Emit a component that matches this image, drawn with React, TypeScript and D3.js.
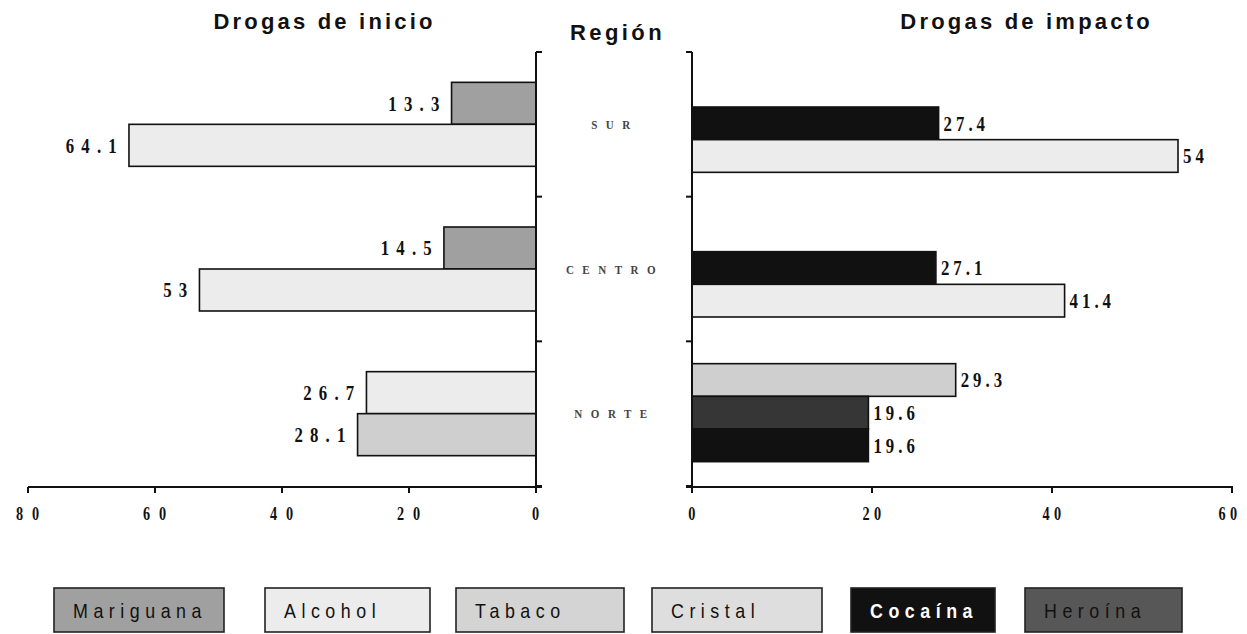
import React from 'react';
import * as d3 from 'd3';

const regions = ['SUR', 'CENTRO', 'NORTE'];
const drugs = ['Mariguana', 'Alcohol', 'Tabaco', 'Cristal', 'Cocaína', 'Heroína'];

// Drogas de inicio: two bar slots per region
const inicioDrugs = [
  ['Mariguana', 'Alcohol'],
  ['Mariguana', 'Alcohol'],
  ['Alcohol', 'Tabaco'],
];
const inicioValues = [
  [13.3, 64.1],
  [14.5, 53],
  [26.7, 28.1],
];
const inicioTicks = [80, 60, 40, 20, 0];

// Drogas de impacto: three bar slots per region (first one empty in SUR and CENTRO)
const impactoDrugs = [
  [null, 'Cocaína', 'Alcohol'],
  [null, 'Cocaína', 'Alcohol'],
  ['Tabaco', 'Heroína', 'Cocaína'],
];
const impactoValues = [
  [null, 27.4, 54],
  [null, 27.1, 41.4],
  [29.3, 19.6, 19.6],
];
const impactoTicks = [0, 20, 40, 60];

const legendFill: Record<string, string> = {
  Mariguana: '#a0a0a0',
  Alcohol: '#ececec',
  Tabaco: '#d4d4d4',
  Cristal: '#dedede',
  'Cocaína': '#111111',
  'Heroína': '#575757',
};
const barFill: Record<string, string> = { ...legendFill, 'Heroína': '#363636', Tabaco: '#cfcfcf' };

// legend box layout [x, width]
const legendBoxes = [
  [54, 170],
  [265, 165],
  [456, 168],
  [652, 170],
  [851, 144],
  [1025, 157],
];

const W = 1247;
const H = 634;
const top = 52;
const bottom = 486;
const axisY = 487;

const serif = "'Liberation Serif', 'Times New Roman', serif";
const sans = "'Liberation Sans', Arial, sans-serif";

// text squeezed horizontally, like the narrow glyphs of the original
type CTProps = {
  x: number;
  y: number;
  sx: number;
  anchor?: 'start' | 'middle' | 'end';
  family: string;
  size: number;
  spacing: number;
  weight?: string;
  fill?: string;
  dy?: string;
  children: React.ReactNode;
};
const CText: React.FC<CTProps> = ({ x, y, sx, anchor = 'start', family, size, spacing, weight = 'bold', fill = '#111', dy, children }) => (
  <text
    transform={`translate(${x},${y}) scale(${sx},1)`}
    dy={dy}
    textAnchor={anchor}
    fontFamily={family}
    fontWeight={weight}
    fontSize={size}
    letterSpacing={spacing}
    fill={fill}
  >
    {children}
  </text>
);

const App: React.FC = () => {
  const y = d3.scaleBand<string>().domain(regions).range([top, bottom]);
  const xL = d3.scaleLinear().domain([0, 80]).range([536, 28]);
  const xR = d3.scaleLinear().domain([0, 60]).range([692, 1232]);
  const slotL = d3.scaleBand<number>().domain([0, 1]).range([0, 84]);
  const slotR = d3.scaleBand<number>().domain([0, 1, 2]).range([0, 98]);
  const offL = (y.bandwidth() - 84) / 2;
  const offR = (y.bandwidth() - 98) / 2 - 1;

  const boundaries = [...regions.map((r) => y(r) as number), bottom];

  return (
    <svg width={W} height={H} style={{ position: 'absolute', left: 0, top: 0, background: '#fff' }}>
      {/* titles */}
      <text x={324.6} y={29} textAnchor="middle" fontFamily={sans} fontWeight="bold" fontSize={22} letterSpacing={3.2} fill="#111">
        Drogas de inicio
      </text>
      <text x={617.5} y={40} textAnchor="middle" fontFamily={sans} fontWeight="bold" fontSize={22} letterSpacing={3.4} fill="#111">
        Región
      </text>
      <text x={1026.6} y={29} textAnchor="middle" fontFamily={sans} fontWeight="bold" fontSize={22} letterSpacing={3.2} fill="#111">
        Drogas de impacto
      </text>

      {/* left panel bars */}
      {regions.map((r, i) =>
        inicioValues[i].map((v, j) => {
          const by = (y(r) as number) + offL + (slotL(j) as number);
          return (
            <g key={`l-${r}-${j}`}>
              <rect
                x={xL(v)}
                y={by}
                width={xL(0) - xL(v)}
                height={slotL.bandwidth()}
                fill={barFill[inicioDrugs[i][j]]}
                stroke="#111"
                strokeWidth={1.6}
              />
              <CText x={xL(v) - 5} y={by + slotL.bandwidth() / 2} dy="0.35em" anchor="end" sx={0.8} family={serif} size={21} spacing={9}>
                {String(v)}
              </CText>
            </g>
          );
        })
      )}

      {/* right panel bars */}
      {regions.map((r, i) =>
        impactoValues[i].map((v, j) => {
          if (v === null) return null;
          const by = (y(r) as number) + offR + (slotR(j) as number);
          return (
            <g key={`r-${r}-${j}`}>
              <rect
                x={xR(0)}
                y={by}
                width={xR(v) - xR(0)}
                height={slotR.bandwidth()}
                fill={barFill[impactoDrugs[i][j] as string]}
                stroke="#111"
                strokeWidth={1.6}
              />
              <CText x={xR(v) + 5} y={by + slotR.bandwidth() / 2} dy="0.35em" sx={0.8} family={serif} size={21} spacing={5}>
                {String(v)}
              </CText>
            </g>
          );
        })
      )}

      {/* left axes */}
      <line x1={xL(0)} x2={xL(0)} y1={top} y2={axisY} stroke="#111" strokeWidth={2} />
      {boundaries.map((b) => (
        <line key={`lt-${b}`} x1={xL(0)} x2={xL(0) + 6} y1={b} y2={b} stroke="#111" strokeWidth={2} />
      ))}
      <line x1={xL(80)} x2={xL(0) + 6} y1={axisY} y2={axisY} stroke="#111" strokeWidth={2} />
      {inicioTicks.map((t) => (
        <g key={`lx-${t}`}>
          <line x1={xL(t)} x2={xL(t)} y1={axisY} y2={axisY + 6} stroke="#111" strokeWidth={2} />
          <CText x={xL(t) + 4} y={520} anchor="middle" sx={0.75} family={serif} size={19} spacing={12}>
            {t}
          </CText>
        </g>
      ))}

      {/* right axes */}
      <line x1={xR(0)} x2={xR(0)} y1={top} y2={axisY} stroke="#111" strokeWidth={2} />
      {boundaries.map((b) => (
        <line key={`rt-${b}`} x1={xR(0) - 6} x2={xR(0)} y1={b} y2={b} stroke="#111" strokeWidth={2} />
      ))}
      <line x1={xR(0) - 6} x2={xR(60) + 1} y1={axisY} y2={axisY} stroke="#111" strokeWidth={2} />
      {impactoTicks.map((t) => (
        <g key={`rx-${t}`}>
          <CText x={xR(t) + (t === 60 ? -2 : 2)} y={520} anchor="middle" sx={0.75} family={serif} size={19} spacing={6}>
            {t}
          </CText>
          <line x1={xR(t)} x2={xR(t)} y1={axisY} y2={axisY + 6} stroke="#111" strokeWidth={2} />
        </g>
      ))}

      {/* region labels */}
      {regions.map((r) => (
        <CText
          key={`reg-${r}`}
          x={615}
          y={(y(r) as number) + y.bandwidth() / 2}
          dy="0.35em"
          anchor="middle"
          sx={0.85}
          family={serif}
          size={13}
          spacing={10}
          fill="#444"
        >
          {r}
        </CText>
      ))}

      {/* legend */}
      {drugs.map((d, i) => {
        const [bx, bw] = legendBoxes[i];
        const dark = d === 'Cocaína';
        return (
          <g key={`lg-${d}`}>
            <rect x={bx} y={588} width={bw} height={44} fill={legendFill[d]} stroke="#222" strokeWidth={1.6} />
            <CText x={bx + 19} y={618} sx={0.85} family={sans} size={21} spacing={6.5} weight={dark ? 'bold' : 'normal'} fill={dark ? '#fff' : '#111'}>
              {d}
            </CText>
          </g>
        );
      })}
    </svg>
  );
};

export default App;
